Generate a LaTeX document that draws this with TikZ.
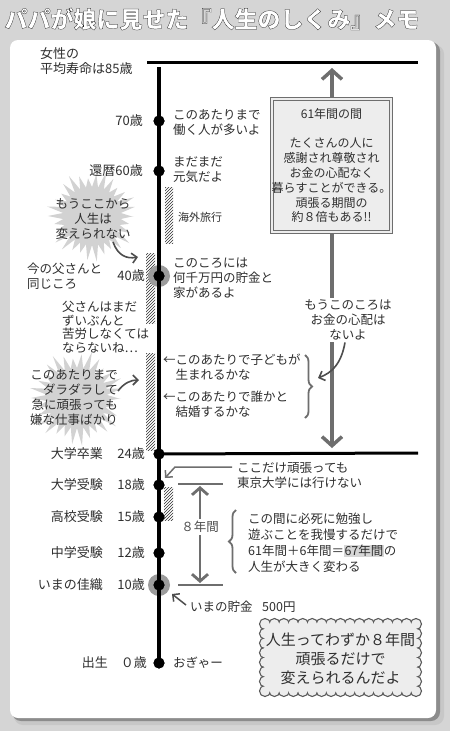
\documentclass[tikz,border=0pt]{standalone}
\usepackage{fontspec}
\setmainfont{Noto Sans CJK JP}
\usetikzlibrary{arrows.meta,decorations.pathreplacing,patterns,calc}
\definecolor{ink}{HTML}{2F2F2F}
\definecolor{agray}{HTML}{6E6E6E}
\definecolor{bgc}{HTML}{D5D5D5}
\definecolor{boxc}{HTML}{EDEDED}
\definecolor{burstc}{HTML}{D2D2D2}
\definecolor{haloc}{HTML}{9C9C9C}
\definecolor{hlc}{HTML}{D6D6D6}
\newcommand\fsz[2]{\fontsize{#1}{#2}\selectfont}
\newcommand\ttltext{パパが娘に見せた『人生のしくみ』メモ}
% center x, center y, outer R, inner r
\newcommand\burstfill[4]{\fill[burstc] plot[samples=61, domain=0:60, variable=\k]
  ({#1+((#4)+((#3)*(1+0.1*sin(\k*137))-(#4))*(1+cos(\k*180))/2)*cos(\k*6)},
   {#2+((#4)+((#3)*(1+0.1*sin(\k*137))-(#4))*(1+cos(\k*180))/2)*sin(\k*6)}) -- cycle;}
\newcommand\scallops[1]{%
  \foreach \i in {0,...,16} {
    \path[#1] ({265+\i*151/16},624) circle (4.8pt);
    \path[#1] ({265+\i*151/16},691) circle (4.8pt);}
  \foreach \i in {1,...,6} {
    \path[#1] (265,{624+\i*67/7}) circle (4.8pt);
    \path[#1] (416,{624+\i*67/7}) circle (4.8pt);}}
\begin{document}
\begin{tikzpicture}[x=1pt,y=-1pt,
 txt/.style={font=\fsz{12.5}{15}, text=ink, inner sep=0pt, align=left, anchor=west},
 lbl/.style={font=\fsz{13}{15}, text=ink, inner sep=0pt, anchor=east},
 dot/.style={circle, fill=black, inner sep=0pt, minimum size=11pt},
 halo/.style={circle, fill=haloc, inner sep=0pt, minimum size=22pt},
 hatchbar/.style={pattern=north east lines, pattern color=ink},
 bigarrow/.style={draw=agray, line width=3.5pt, {Straight Barb[length=9pt,width=20pt]}-{Straight Barb[length=9pt,width=20pt]}},
 midarrow/.style={draw=agray, line width=2.8pt, {Straight Barb[length=7pt,width=16pt]}-{Straight Barb[length=7pt,width=16pt]}},
 curvearrow/.style={draw=ink!85, line width=1.6pt, -{Straight Barb[length=5pt,width=10pt]}},
 thinarrow/.style={draw=agray, line width=1.5pt, -{Straight Barb[length=5pt,width=10pt]}},
 bracestyle/.style={draw=agray, line width=1.8pt, decorate, decoration={brace, amplitude=7pt}},
 titlefont/.style={font=\fsz{23}{25}\bfseries, inner sep=0pt},
]
% background and panel
\fill[bgc] (0,0) rectangle (450,731);
\useasboundingbox (0,0) rectangle (450,731);
\fill[black!22, rounded corners=9pt] (14,45) rectangle (444,725);
\fill[black!45, rounded corners=9pt] (12,42) rectangle (440,721);
\fill[white, rounded corners=8pt] (10,40) rectangle (436,718);

% title: white letters with dark stroke (text render mode 2)
\node[titlefont, text=white] (title) at (212,19)
  {\special{pdf:literal direct 2 Tr 0.22 w 0.05 G}\ttltext\special{pdf:literal direct 0 Tr}};

% starbursts
\burstfill{92}{216}{42}{29}
\burstfill{77}{398}{44}{30}

% hatched bars
\fill[hatchbar] (165,187) rectangle (173,243);
\fill[hatchbar] (146,253) rectangle (155,323);
\fill[hatchbar] (146,353) rectangle (155,450);
\fill[hatchbar] (164,487) rectangle (173,520);

% top and 24 lines
\coordinate (L85a) at (147,62);
\coordinate (L85b) at (418,62);
\draw[line width=3pt] (L85a) -- (L85b);
\coordinate (L24b) at (418,453);

% big gray double arrow
\coordinate (gtop) at (332,68);
\coordinate (gbot) at (332,448);
\draw[bigarrow] (gbot) -- (gtop);

% timeline
\node[halo] (h40) at (159,276) {};
\node[halo] (h10) at (159,585) {};
\coordinate (ttop) at (159,67);
\node[dot] (d70) at (159,121) {};
\node[dot] (d60) at (159,171) {};
\node[dot] (d40) at (159,276) {};
\node[dot] (d24) at (159,454) {};
\node[dot] (d18) at (159,485) {};
\node[dot] (d15) at (159,517) {};
\node[dot] (d12) at (159,553) {};
\node[dot] (d10) at (159,585) {};
\node[dot] (d0) at (159,663) {};
\draw[line width=4pt] (ttop) -- (d0.center);
\draw[line width=3pt] (d24.center) -- (L24b);
\foreach \n in {d70,d60,d40,d24,d18,d15,d12,d10,d0}
  \fill (\n) circle (5.5pt);

% 61-year box
\node[draw=agray, line width=0.9pt, double=boxc, double distance=2pt, fill=boxc,
      minimum width=115pt, minimum height=133pt, inner sep=0pt,
      font=\fsz{12}{14.8}, text=ink, align=center] (box61) at (331.5,165.5)
  {61年間の間\\[14.8pt]たくさんの人に\\感謝され尊敬され\\お金の心配なく\\暮らすことができる。\\頑張る期間の\\約８倍もある!!};

% left texts
\node[txt, font=\fsz{13}{15.5}] (lifespan) at (40,61) {女性の\\平均寿命は85歳};
\node[lbl] (a70) at (143,121) {70歳};
\node[lbl] (a60) at (143,171) {還暦60歳};
\node[txt, anchor=center, align=center] (nochange) at (93,219) {もうここから\\人生は\\変えられない};
\node[txt] (samefather) at (27,276) {今の父さんと\\同じころ};
\node[lbl] (a40) at (145,276) {40歳};
\node[txt, font=\fsz{12.5}{13.5}] (hardship) at (62,327) {父さんはまだ\\ずいぶんと\\苦労しなくては\\ならないね…};
\node[txt, anchor=east, align=right] (lazy) at (118,398) {このあたりまで\\ダラダラして\\急に頑張っても\\嫌な仕事ばかり};

% curved arrows from bursts
\coordinate (c1s) at (113,242);
\coordinate (c1e) at (138,257);
\draw[curvearrow] (c1s) .. controls (118,256) and (127,259) .. (c1e);
\coordinate (c2s) at (118,391);
\coordinate (c2e) at (139,380);
\draw[curvearrow] (c2s) .. controls (124,383) and (131,380) .. (c2e);

% right texts
\node[txt] (work) at (173,123) {このあたりまで\\働く人が多いよ};
\node[txt] (genki) at (173,170) {まだまだ\\元気だよ};
\node[txt, font=\fsz{11}{13}] (travel) at (178,217) {海外旅行};
\node[txt] (rich) at (173,278) {このころには\\何千万円の貯金と\\家があるよ};
\node[txt, anchor=center, align=center, fill=white, inner sep=2pt] (moneyok) at (348,320) {もうこのころは\\お金の心配は\\ないよ};
\node[txt] (child) at (163,367) {←このあたりで子どもが\\　生まれるかな};
\node[txt] (marry) at (163,404) {←このあたりで誰かと\\　結婚するかな};
\draw[bracestyle] (305,355) -- (305,418);
\coordinate (mtip) at (318,378);
\draw[curvearrow] ([xshift=-3pt]moneyok.south) .. controls (341,365) and (331,373) .. (mtip);

% lower labels
\node[lbl] (n24) at (103,454) {大学卒業};
\node[lbl] (a24) at (145,454) {24歳};
\node[lbl] (n18) at (103,485) {大学受験};
\node[lbl] (a18) at (145,485) {18歳};
\node[lbl] (n15) at (103,517) {高校受験};
\node[lbl] (a15) at (145,517) {15歳};
\node[lbl] (n12) at (103,553) {中学受験};
\node[lbl] (a12) at (145,553) {12歳};
\node[lbl] (n10) at (103,585) {いまの佳織};
\node[lbl] (a10) at (145,585) {10歳};
\node[lbl] (n0) at (108,663) {出生};
\node[lbl] (a0) at (147,663) {０歳};
\node[txt] (ogya) at (173,663) {おぎゃー};

% Tokyo note
\node[txt] (tokyo) at (237,475) {ここだけ頑張っても\\東京大学には行けない};
\coordinate (tk1) at (232,467);
\coordinate (tk2) at (175,467);
\coordinate (tk3) at (165,478);
\draw[thinarrow] (tk1) -- (tk2) -- (tk3);

% 8 years bracket
\coordinate (b8t1) at (178,484);
\coordinate (b8t2) at (223,484);
\coordinate (b8b1) at (178,585);
\coordinate (b8b2) at (223,585);
\draw[draw=agray, line width=2.8pt] (b8t1) -- (b8t2);
\draw[draw=agray, line width=2.8pt] (b8b1) -- (b8b2);
\coordinate (a8t) at (200,486);
\coordinate (a8b) at (200,583);
\draw[midarrow] (a8t) -- (a8b);
\node[txt, anchor=center, fill=white, inner sep=2pt, text=ink!85] (eight) at (200,527) {８年間};

% study note
\draw[bracestyle] (236,573) -- (236,510);
\node[txt, font=\fsz{12.5}{16}] (study) at (248,543)
  {この間に必死に勉強し\\遊ぶことを我慢するだけで\\61年間＋6年間＝{\setlength{\fboxsep}{0.5pt}\colorbox{hlc}{67年間}}の\\人生が大きく変わる};

% savings
\node[txt] (nowsave) at (190,607) {いまの貯金};
\node[txt] (yen) at (262,607) {500円};
\coordinate (sv2) at (172,594);
\draw[thinarrow, draw=ink!85] ([xshift=-4pt,yshift=2pt]nowsave.west) -- (sv2);

% scalloped message box
\scallops{draw=ink!80, line width=2.4pt}
\scallops{fill=boxc}
\fill[boxc] (265,624) rectangle (416,691);
\node[font=\fsz{15}{19}, text=ink, align=center, inner sep=0pt] (cloud) at (340.5,659)
  {人生ってわずか８年間\\頑張るだけで\\変えられるんだよ};
\end{tikzpicture}
\end{document}
